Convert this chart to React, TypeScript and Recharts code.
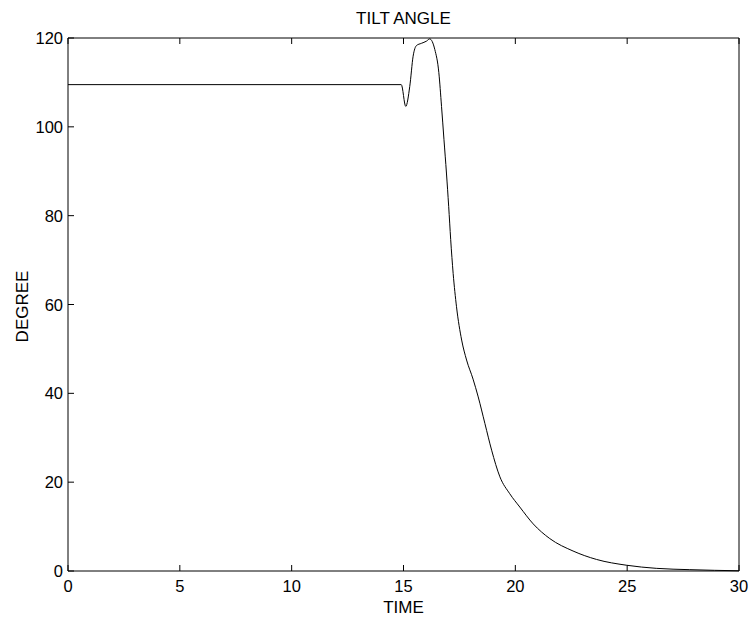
import React from 'react';
import { LineChart, Line, XAxis, YAxis, Label } from 'recharts';

const timeValues = [0, 14.9, 15.1, 15.28, 15.43, 15.58, 15.8, 16.03, 16.17, 16.4, 16.58, 16.7, 16.81, 16.92, 17.02, 17.11, 17.22, 17.37, 17.6, 17.82, 18.11, 18.34, 18.64, 18.94, 19.31, 19.75, 20.2, 20.8, 21.54, 22.58, 23.63, 24.97, 26.3, 27.8, 30];
const degreeValues = [109.5, 109.5, 104.6, 109.1, 115.9, 118.3, 118.8, 119.3, 119.8, 117.4, 112.2, 104.6, 97.1, 89.6, 82.1, 74.6, 67.0, 59.5, 52.0, 47.5, 43.2, 39.2, 33.2, 27.2, 21.2, 17.4, 14.4, 10.6, 7.3, 4.5, 2.6, 1.3, 0.6, 0.3, 0.05];
const xTicks = [0, 5, 10, 15, 20, 25, 30];
const yTicks = [0, 20, 40, 60, 80, 100, 120];

const data = timeValues.map((t, i) => ({ t, v: degreeValues[i] }));

const FONT = '"Liberation Sans", Arial, Helvetica, sans-serif';
const TL = 6;

const BottomTick = (props: any) => {
  const { x, y, payload } = props;
  return (
    <g>
      <line x1={x} y1={y} x2={x} y2={y - TL} stroke="#000" strokeWidth={1} />
      <text x={x} y={y + 21} textAnchor="middle" fontSize={16.5} fontFamily={FONT} fill="#000">
        {payload.value}
      </text>
    </g>
  );
};
const TopTick = (props: any) => {
  const { x, y } = props;
  return <line x1={x} y1={y} x2={x} y2={y + TL} stroke="#000" strokeWidth={1} />;
};
const LeftTick = (props: any) => {
  const { x, y, payload } = props;
  return (
    <g>
      <line x1={x} y1={y} x2={x + TL} y2={y} stroke="#000" strokeWidth={1} />
      <text x={x - 5} y={y + 6} textAnchor="end" fontSize={16.5} fontFamily={FONT} fill="#000">
        {payload.value}
      </text>
    </g>
  );
};
const RightTick = (props: any) => {
  const { x, y } = props;
  return <line x1={x} y1={y} x2={x - TL} y2={y} stroke="#000" strokeWidth={1} />;
};

export default function App() {
  return (
    <div style={{ position: 'absolute', left: 0, top: 0, background: '#fff' }}>
      <LineChart width={754} height={621} data={data} margin={{ top: 37, right: 14, bottom: 20, left: 8 }}>
        <XAxis
          dataKey="t"
          type="number"
          domain={[0, 30]}
          ticks={xTicks}
          xAxisId="b"
          height={30}
          tickSize={0}
          tickMargin={0}
          tickLine={false}
          axisLine={{ stroke: '#000', strokeWidth: 1 }}
          tick={<BottomTick />}
          interval={0}
        >
          <Label
            content={(p: any) => (
              <text x={p.viewBox.x + p.viewBox.width / 2} y={613} textAnchor="middle" fontSize={17} fontFamily={FONT} fill="#000">
                TIME
              </text>
            )}
          />
        </XAxis>
        <XAxis
          dataKey="t"
          type="number"
          domain={[0, 30]}
          ticks={xTicks}
          xAxisId="top"
          orientation="top"
          height={1}
          tickSize={0}
          tickMargin={0}
          tickLine={false}
          axisLine={{ stroke: '#000', strokeWidth: 1 }}
          tick={<TopTick />}
          interval={0}
        >
          <Label
            content={(p: any) => (
              <text x={p.viewBox.x + p.viewBox.width / 2} y={24} textAnchor="middle" fontSize={17} fontFamily={FONT} fill="#000">
                TILT ANGLE
              </text>
            )}
          />
        </XAxis>
        <YAxis
          yAxisId="l"
          type="number"
          domain={[0, 120]}
          ticks={yTicks}
          width={60}
          tickSize={0}
          tickMargin={0}
          tickLine={false}
          axisLine={{ stroke: '#000', strokeWidth: 1 }}
          tick={<LeftTick />}
          interval={0}
        >
          <Label
            content={(p: any) => {
              const cx = p.viewBox.x + 14;
              const cy = p.viewBox.y + p.viewBox.height / 2 + 2;
              return (
                <text x={cx} y={cy} transform={`rotate(-90, ${cx}, ${cy})`} textAnchor="middle" dominantBaseline="central" fontSize={17} fontFamily={FONT} fill="#000">
                  DEGREE
                </text>
              );
            }}
          />
        </YAxis>
        <YAxis
          yAxisId="r"
          orientation="right"
          type="number"
          domain={[0, 120]}
          ticks={yTicks}
          width={1}
          tickSize={0}
          tickMargin={0}
          tickLine={false}
          axisLine={{ stroke: '#000', strokeWidth: 1 }}
          tick={<RightTick />}
          interval={0}
        />
        <Line
          xAxisId="b"
          yAxisId="l"
          type="monotone"
          dataKey="v"
          stroke="#000"
          strokeWidth={1}
          dot={false}
          isAnimationActive={false}
        />
      </LineChart>
    </div>
  );
}
